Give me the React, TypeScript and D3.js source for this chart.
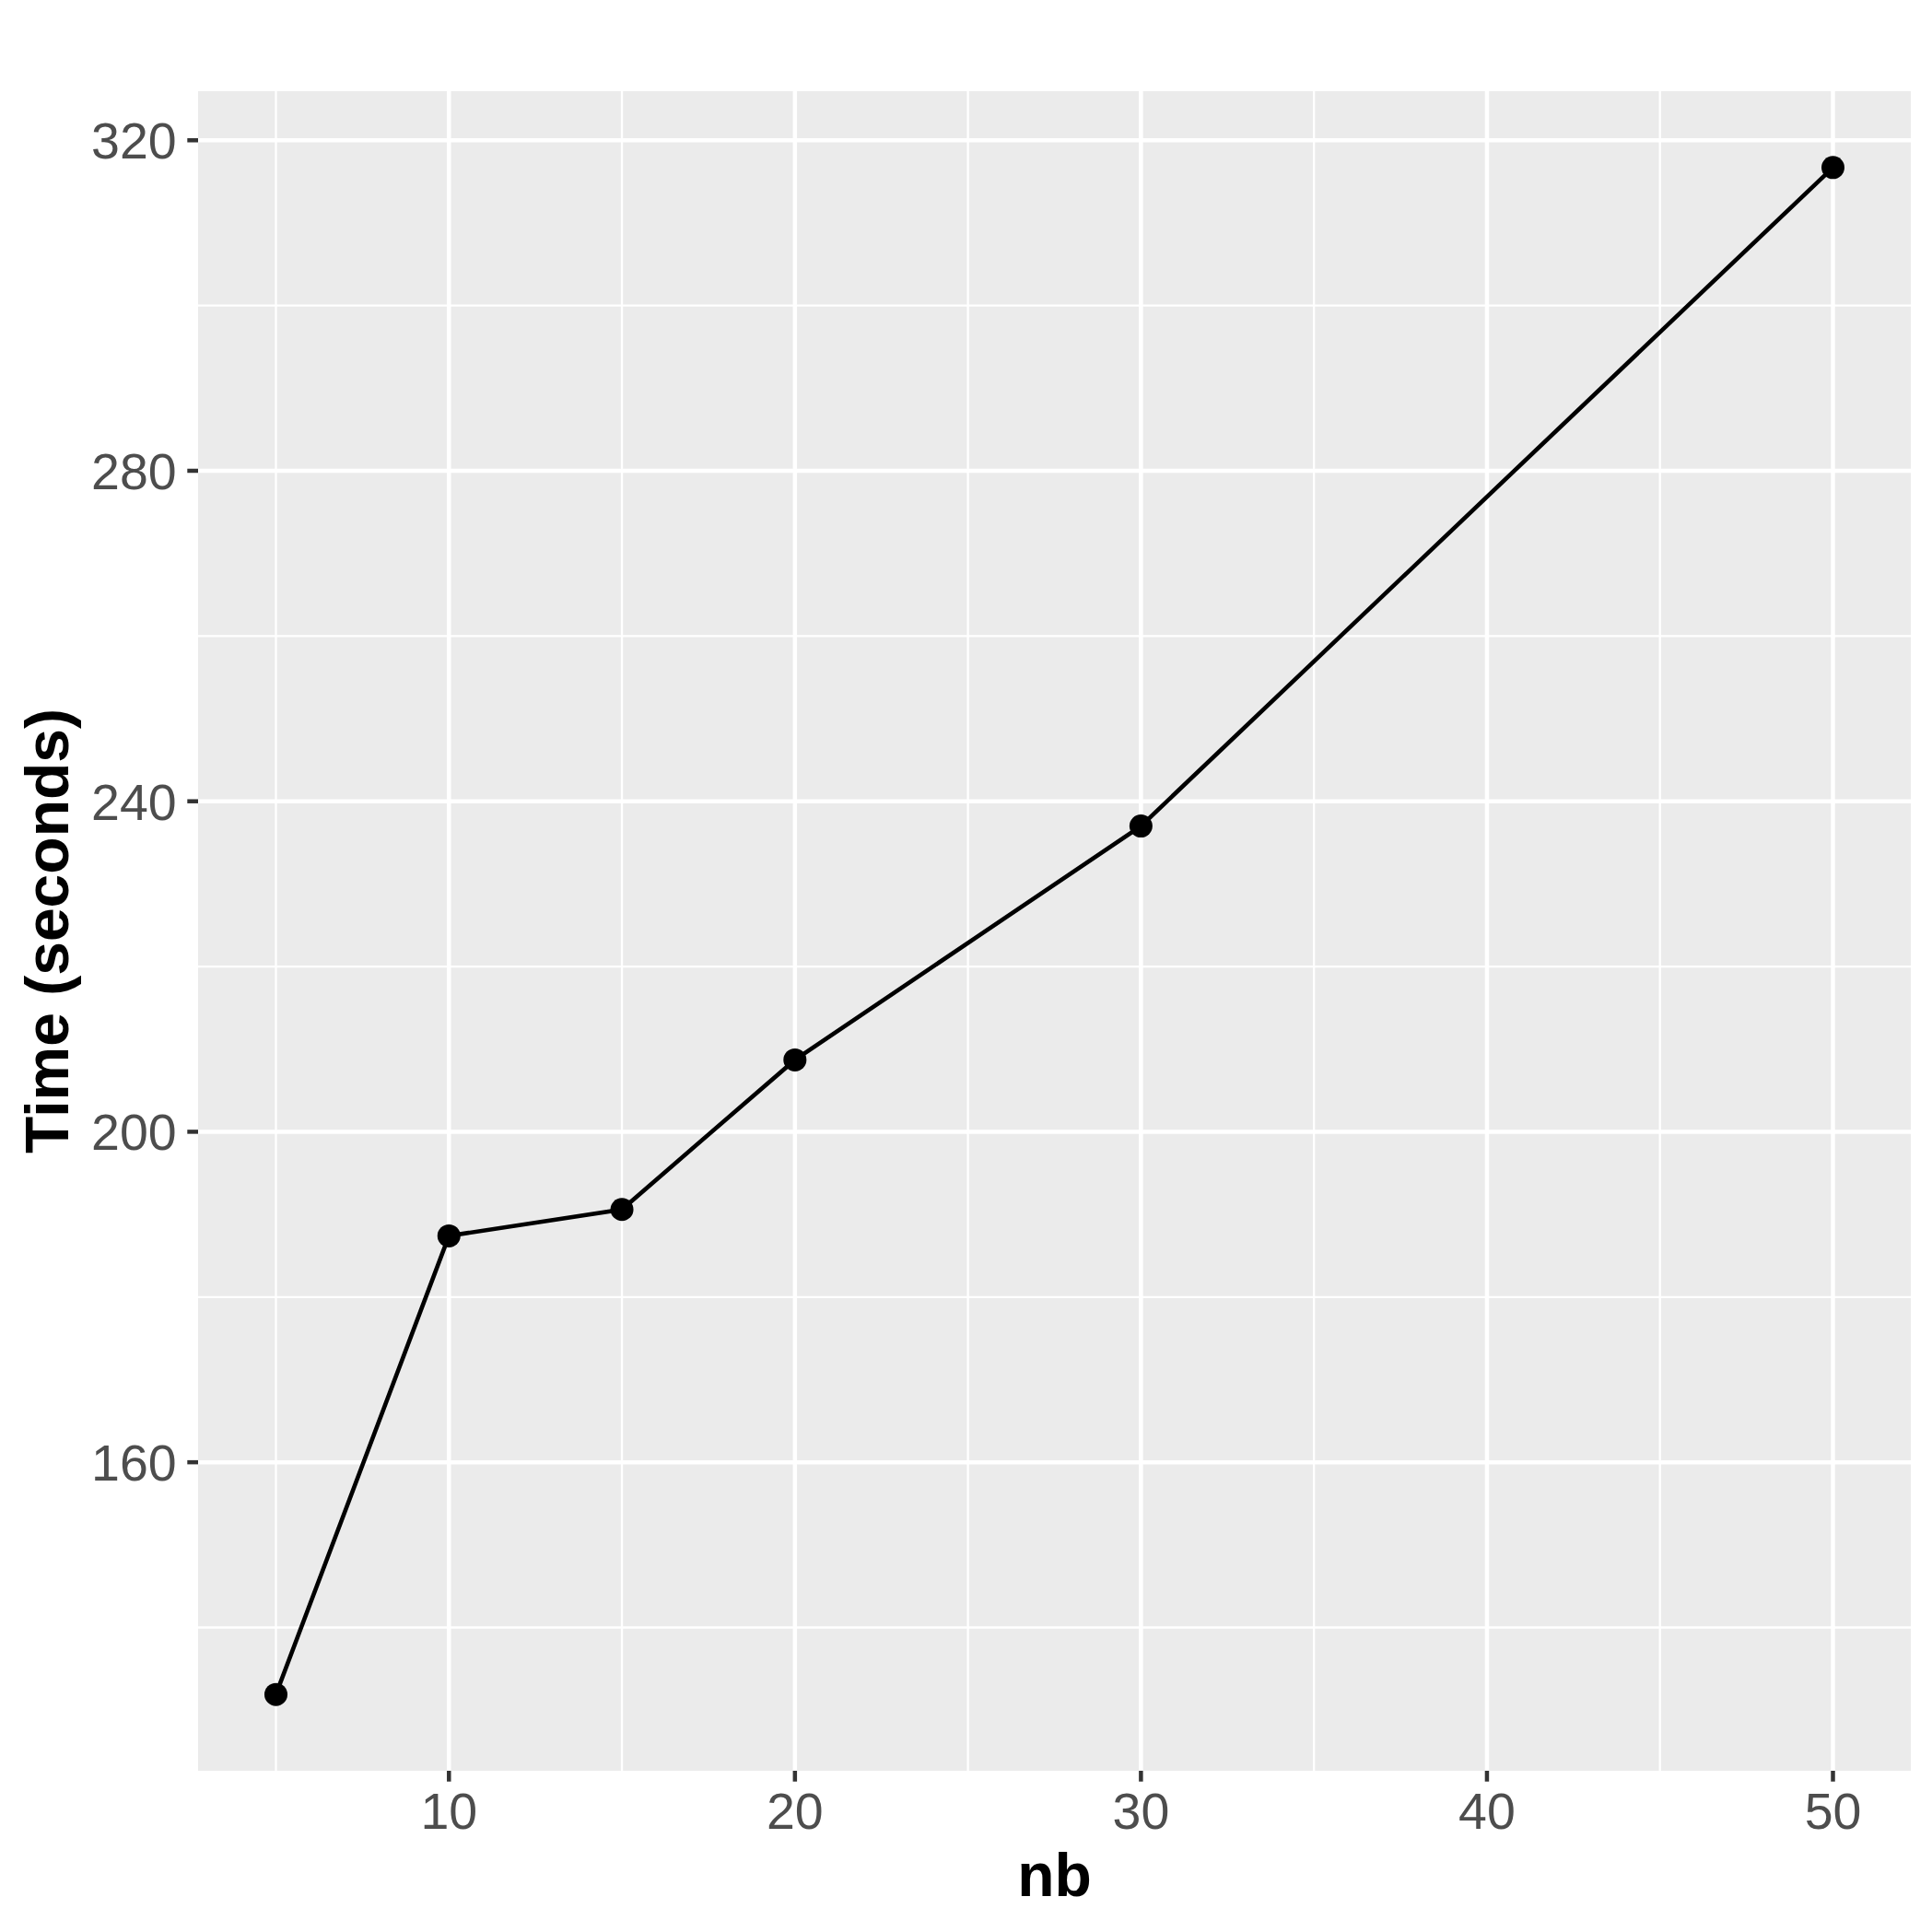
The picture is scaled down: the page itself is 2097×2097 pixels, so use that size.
import React from 'react';
import * as d3 from 'd3';

// values
const nb = [5, 10, 15, 20, 30, 50];
const timeSeconds = [131.9, 187.4, 190.6, 208.7, 237.0, 316.7];

const xMajorTicks = [10, 20, 30, 40, 50];
const xMinorTicks = [5, 15, 25, 35, 45];
const yMajorTicks = [160, 200, 240, 280, 320];
const yMinorTicks = [140, 180, 220, 260, 300];

const xTitle = 'nb';
const yTitle = 'Time (seconds)';

const W = 2097;
const H = 2097;
const panel = { left: 215, right: 2074, top: 99, bottom: 1922 };

// ggplot-style 5% expansion of the data range
function expand([lo, hi]: [number, number], f = 0.05): [number, number] {
  const pad = (hi - lo) * f;
  return [lo - pad, hi + pad];
}

export default function App() {
  const xExt = d3.extent(nb) as [number, number];
  const yExt = d3.extent(timeSeconds) as [number, number];

  const x = d3.scaleLinear().domain(expand(xExt)).range([panel.left, panel.right]);
  const y = d3.scaleLinear().domain(expand(yExt)).range([panel.bottom, panel.top]);

  const pts: [number, number][] = nb.map((d, i) => [x(d), y(timeSeconds[i])]);
  const line = d3.line<[number, number]>().x(d => d[0]).y(d => d[1]);

  const font = '"Liberation Sans", Arial, Helvetica, sans-serif';
  const tickLen = 11.7;
  const panelMidX = (panel.left + panel.right) / 2;
  const panelMidY = (panel.top + panel.bottom) / 2;

  return (
    <svg
      width={W}
      height={H}
      style={{ position: 'absolute', left: 0, top: 0, background: '#fff' }}
      fontFamily={font}
    >
      <rect x={0} y={0} width={W} height={H} fill="#fff" />

      {/* panel */}
      <rect
        x={panel.left}
        y={panel.top}
        width={panel.right - panel.left}
        height={panel.bottom - panel.top}
        fill="#EBEBEB"
      />

      {/* minor grid */}
      <g stroke="#fff" strokeWidth={2.3}>
        {yMinorTicks.map(t => (
          <line key={'ym' + t} x1={panel.left} x2={panel.right} y1={y(t)} y2={y(t)} />
        ))}
        {xMinorTicks.map(t => (
          <line key={'xm' + t} x1={x(t)} x2={x(t)} y1={panel.top} y2={panel.bottom} />
        ))}
      </g>

      {/* major grid */}
      <g stroke="#fff" strokeWidth={4.5}>
        {yMajorTicks.map(t => (
          <line key={'yM' + t} x1={panel.left} x2={panel.right} y1={y(t)} y2={y(t)} />
        ))}
        {xMajorTicks.map(t => (
          <line key={'xM' + t} x1={x(t)} x2={x(t)} y1={panel.top} y2={panel.bottom} />
        ))}
      </g>

      {/* data */}
      <path d={line(pts) || ''} fill="none" stroke="#000" strokeWidth={4.6} />
      {pts.map((p, i) => (
        <circle key={i} cx={p[0]} cy={p[1]} r={12.5} fill="#000" />
      ))}

      {/* y axis */}
      <g>
        {yMajorTicks.map(t => (
          <g key={'yt' + t}>
            <line
              x1={panel.left - tickLen}
              x2={panel.left}
              y1={y(t)}
              y2={y(t)}
              stroke="#333333"
              strokeWidth={4.5}
            />
            <text
              x={191.7}
              y={y(t)}
              dy="0.36em"
              textAnchor="end"
              fontSize={55.5}
              fill="#4D4D4D"
            >
              {t}
            </text>
          </g>
        ))}
      </g>

      {/* x axis */}
      <g>
        {xMajorTicks.map(t => (
          <g key={'xt' + t}>
            <line
              x1={x(t)}
              x2={x(t)}
              y1={panel.bottom}
              y2={panel.bottom + tickLen}
              stroke="#333333"
              strokeWidth={4.5}
            />
            <text x={x(t)} y={1985} textAnchor="middle" fontSize={55.5} fill="#4D4D4D">
              {t}
            </text>
          </g>
        ))}
      </g>

      {/* axis titles */}
      <text x={panelMidX} y={2058} textAnchor="middle" fontSize={66} fontWeight="bold" fill="#000">
        {xTitle}
      </text>
      <text
        transform={`translate(74, ${panelMidY}) rotate(-90)`}
        textAnchor="middle"
        fontSize={66}
        fontWeight="bold"
        fill="#000"
      >
        {yTitle}
      </text>
    </svg>
  );
}
